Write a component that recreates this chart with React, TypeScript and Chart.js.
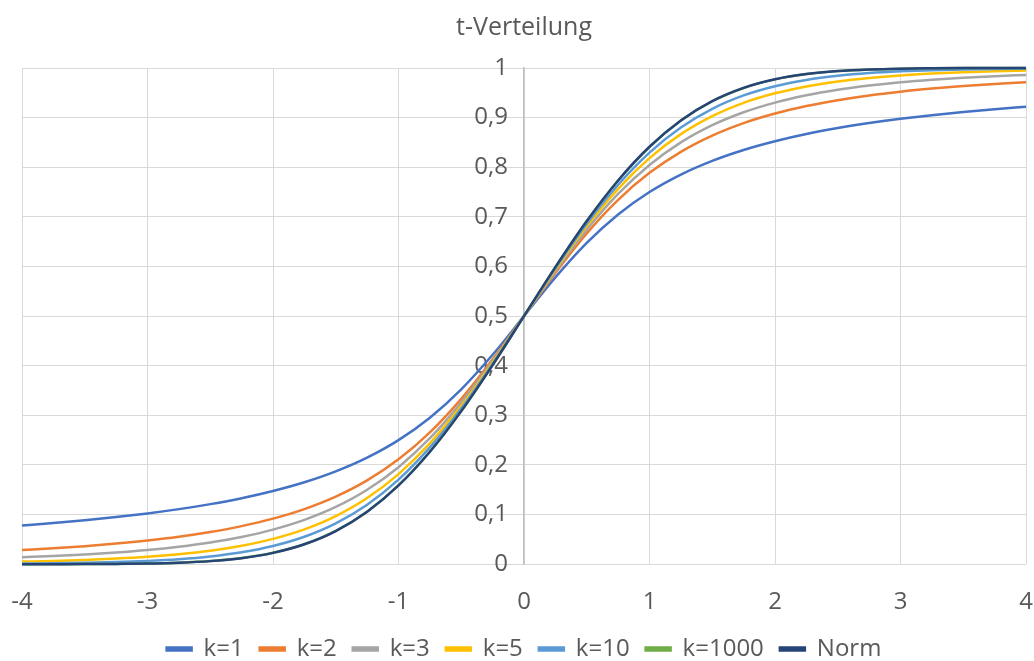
import React, { useEffect, useRef } from "react";
import { Chart, registerables } from "chart.js";

Chart.register(...registerables);

// x positions of the sampled points
const xValues = [
  -4, -3.75, -3.5, -3.25, -3, -2.75, -2.5, -2.25, -2, -1.75, -1.5, -1.25, -1, -0.75, -0.5, -0.25,
  0, 0.25, 0.5, 0.75, 1, 1.25, 1.5, 1.75, 2, 2.25, 2.5, 2.75, 3, 3.25, 3.5, 3.75, 4,
];

// cumulative probabilities per degree of freedom
const k1 = [
  0.078, 0.083, 0.0886, 0.095, 0.1024, 0.111, 0.1211, 0.1331, 0.1476, 0.1652, 0.1872, 0.2148, 0.25, 0.2952, 0.3524, 0.422,
  0.5, 0.578, 0.6476, 0.7048, 0.75, 0.7852, 0.8128, 0.8348, 0.8524, 0.8669, 0.8789, 0.889, 0.8976, 0.905, 0.9114, 0.917, 0.922,
];
const k2 = [
  0.0286, 0.0322, 0.0364, 0.0415, 0.0477, 0.0553, 0.0648, 0.0767, 0.0918, 0.1111, 0.1362, 0.1689, 0.2113, 0.2657, 0.3333, 0.413,
  0.5, 0.587, 0.6667, 0.7343, 0.7887, 0.8311, 0.8638, 0.8889, 0.9082, 0.9233, 0.9352, 0.9447, 0.9523, 0.9585, 0.9636, 0.9678, 0.9714,
];
const k3 = [
  0.014, 0.0166, 0.0197, 0.0237, 0.0288, 0.0354, 0.0439, 0.055, 0.0697, 0.0892, 0.1153, 0.15, 0.1955, 0.2539, 0.3257, 0.4094,
  0.5, 0.5906, 0.6743, 0.7461, 0.8045, 0.85, 0.8847, 0.9108, 0.9303, 0.945, 0.9561, 0.9646, 0.9712, 0.9763, 0.9803, 0.9834, 0.986,
];
const k5 = [
  0.0052, 0.0066, 0.0086, 0.0113, 0.015, 0.0202, 0.0272, 0.0371, 0.051, 0.0702, 0.097, 0.1333, 0.1816, 0.2435, 0.3191, 0.4063,
  0.5, 0.5937, 0.6809, 0.7565, 0.8184, 0.8667, 0.903, 0.9298, 0.949, 0.9629, 0.9728, 0.9798, 0.985, 0.9887, 0.9914, 0.9934, 0.9948,
];
const k10 = [
  0.0013, 0.0019, 0.0029, 0.0044, 0.0067, 0.0102, 0.0157, 0.0241, 0.0367, 0.0553, 0.0823, 0.1199, 0.1704, 0.2353, 0.3139, 0.4038,
  0.5, 0.5962, 0.6861, 0.7647, 0.8296, 0.8801, 0.9177, 0.9447, 0.9633, 0.9759, 0.9843, 0.9898, 0.9933, 0.9956, 0.9971, 0.9981, 0.9987,
];
const k1000 = [
  0.0, 0.0001, 0.0002, 0.0006, 0.0014, 0.003, 0.0063, 0.0123, 0.0229, 0.0402, 0.067, 0.1058, 0.1588, 0.2267, 0.3086, 0.4013,
  0.5, 0.5987, 0.6914, 0.7733, 0.8412, 0.8942, 0.933, 0.9598, 0.9771, 0.9877, 0.9937, 0.997, 0.9986, 0.9994, 0.9998, 0.9999, 1.0,
];
const norm = [
  0.0, 0.0001, 0.0002, 0.0006, 0.0013, 0.003, 0.0062, 0.0122, 0.0228, 0.0401, 0.0668, 0.1056, 0.1587, 0.2266, 0.3085, 0.4013,
  0.5, 0.5987, 0.6915, 0.7734, 0.8413, 0.8944, 0.9332, 0.9599, 0.9772, 0.9878, 0.9938, 0.997, 0.9987, 0.9994, 0.9998, 0.9999, 1.0,
];

const seriesNames = ["k=1", "k=2", "k=3", "k=5", "k=10", "k=1000", "Norm"];
const seriesValues = [k1, k2, k3, k5, k10, k1000, norm];
const seriesColors = ["#4472C4", "#ED7D31", "#A5A5A5", "#FFC000", "#5B9BD5", "#70AD47", "#264478"];

const FONT = "'Open Sans', sans-serif";
const TEXT = "#595959";

export default function App() {
  const canvasRef = useRef<HTMLCanvasElement | null>(null);

  useEffect(() => {
    if (!canvasRef.current) return;
    const n = seriesNames.length;
    const chart = new Chart(canvasRef.current, {
      type: "line",
      data: {
        datasets: seriesNames.map((name, i) => ({
          label: name,
          data: xValues.map((x, j) => ({ x, y: seriesValues[i][j] })),
          borderColor: seriesColors[i],
          backgroundColor: seriesColors[i],
          borderWidth: 2.5,
          pointRadius: 0,
          cubicInterpolationMode: "monotone" as const,
          clip: false as any,
          // later series are painted over earlier ones
          order: n - i,
        })),
      },
      options: {
        animation: false,
        responsive: true,
        maintainAspectRatio: false,
        layout: { padding: { left: 22, right: 8, top: 0, bottom: -10 } },
        plugins: {
          title: {
            display: true,
            text: "t-Verteilung",
            color: TEXT,
            font: { family: FONT, size: 25, weight: "normal" },
            padding: { top: 13, bottom: 25 },
          },
          legend: {
            position: "bottom",
            labels: {
              color: TEXT,
              font: { family: FONT, size: 24 },
              boxWidth: 25,
              boxHeight: 3,
              padding: 16,
              sort: (a: any, b: any) => a.datasetIndex - b.datasetIndex,
            },
          },
          tooltip: { enabled: false },
        },
        scales: {
          x: {
            type: "linear",
            min: -4,
            max: 4,
            ticks: {
              stepSize: 1,
              color: TEXT,
              font: { family: FONT, size: 24 },
              padding: 0,
            },
            // invisible tick marks keep the labels away from the plot
            grid: { color: "#D9D9D9", lineWidth: 1, drawTicks: true, tickLength: 24, tickColor: "rgba(0,0,0,0)" },
            border: { display: false },
            afterFit: (scale: any) => {
              scale.height += 4;
            },
          },
          y: {
            type: "linear",
            position: { x: 0 } as any,
            min: 0,
            max: 1,
            ticks: {
              stepSize: 0.1,
              color: TEXT,
              font: { family: FONT, size: 24 },
              padding: 0,
              // trailing en space + thin space leave a gap before the centre axis
              callback: (v: any) => {
                const r = Math.round(Number(v) * 10) / 10;
                const s = Number.isInteger(r) ? String(r) : r.toFixed(1).replace(".", ",");
                return s + "\u2002\u2009";
              },
            },
            grid: { color: "#D9D9D9", lineWidth: 1, drawTicks: false },
            border: { display: true, color: "#BFBFBF", width: 1.5 },
            // the axis sits inside the plot, so it takes no room of its own
            afterFit: (scale: any) => {
              scale.width = 0;
            },
          },
        },
      },
    });
    return () => chart.destroy();
  }, []);

  return (
    <div style={{ position: "fixed", left: 0, top: 0, width: 1034, height: 661, background: "#fff" }}>
      <canvas ref={canvasRef} />
    </div>
  );
}
